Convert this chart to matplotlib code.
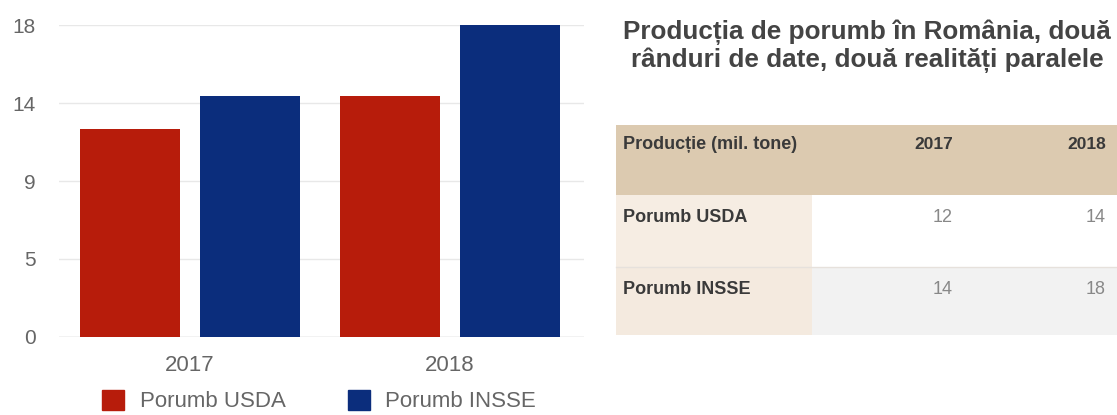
import matplotlib.pyplot as plt
from matplotlib.patches import Rectangle, Patch
import numpy as np

plt.rcParams['font.family'] = ['Liberation Sans', 'DejaVu Sans']

years = ["2017", "2018"]
usda = [12.0, 13.9]
insse = [13.9, 18.0]
series_names = ["Porumb USDA", "Porumb INSSE"]
y_ticks = [0, 4.5, 9, 13.5, 18]
y_tick_labels = ["0", "5", "9", "14", "18"]

title = "Producția de porumb în România, două\nrânduri de date, două realități paralele"
table_header = ["Producție (mil. tone)", "2017", "2018"]
table_rows = ["Porumb USDA", "Porumb INSSE"]
table_values = [["12", "14"], ["14", "18"]]

red = "#b71c0b"
blue = "#0b2d7c"

fig = plt.figure(figsize=(11.17, 4.15), dpi=100)

# bar chart
ax = fig.add_axes([59 / 1117, 1 - 337 / 415, 525 / 1117, 312 / 415])
x = np.arange(len(years))
w = 100 / 260
off = 60 / 260
ax.bar(x - off, usda, w, color=red, zorder=3)
ax.bar(x + off, insse, w, color=blue, zorder=3)
ax.set_xlim(-0.504, 1.515)
ax.set_ylim(0, 18)
ax.set_yticks(y_ticks)
ax.set_yticklabels(y_tick_labels)
ax.set_xticks(x)
ax.set_xticklabels(years)
ax.tick_params(axis='y', length=0, pad=17, labelsize=15, labelcolor="#666666")
ax.tick_params(axis='x', length=0, pad=13, labelsize=16, labelcolor="#666666")
for s in ax.spines.values():
    s.set_visible(False)
ax.grid(axis='y', color="#e8e8e8", linewidth=1, zorder=0)
ax.axhline(0, color="#cccccc", linewidth=1, zorder=1)

handles = [Patch(color=red, label=series_names[0]), Patch(color=blue, label=series_names[1])]
fig.legend(handles=handles, loc='center', bbox_to_anchor=(319 / 1117, 1 - 401 / 415), ncol=2,
           frameon=False, fontsize=16, labelcolor="#666666", handlelength=1.0, handleheight=1.0,
           handletextpad=0.7, columnspacing=2.8)

# table + title
tx = fig.add_axes([0, 0, 1, 1])
tx.set_xlim(0, 1117)
tx.set_ylim(415, 0)
tx.axis('off')

tx.text(867, 46, title, ha='center', va='center', fontsize=18.8, fontweight='bold',
        color="#444444", linespacing=1.15)

left, col1, right = 616, 812, 1117
tops = [125, 195, 267, 335]
tx.add_patch(Rectangle((left, tops[0]), right - left, tops[1] - tops[0], color="#dccab0", lw=0))
first_col = ["#f6ede3", "#f4eadf"]
other_col = ["#ffffff", "#f2f2f2"]
for i in range(len(table_rows)):
    tx.add_patch(Rectangle((left, tops[i + 1]), col1 - left, tops[i + 2] - tops[i + 1], color=first_col[i], lw=0))
    tx.add_patch(Rectangle((col1, tops[i + 1]), right - col1, tops[i + 2] - tops[i + 1], color=other_col[i], lw=0))
tx.plot([left, right], [tops[2], tops[2]], color="#e6e1dc", lw=1)

val_x = [953, 1106]
tx.text(623, 144, table_header[0], ha='left', va='center', fontsize=13, fontweight='bold', color="#3a3a3a")
for j in range(2):
    tx.text(val_x[j], 144, table_header[j + 1], ha='right', va='center', fontsize=12.5,
            fontweight='bold', color="#3a3a3a")
row_y = [217, 289]
for i, name in enumerate(table_rows):
    tx.text(623, row_y[i], name, ha='left', va='center', fontsize=13, fontweight='bold', color="#3a3a3a")
    for j in range(2):
        tx.text(val_x[j], row_y[i], table_values[i][j], ha='right', va='center', fontsize=13,
                color="#888888")

fig.savefig("out.png", dpi=100)
